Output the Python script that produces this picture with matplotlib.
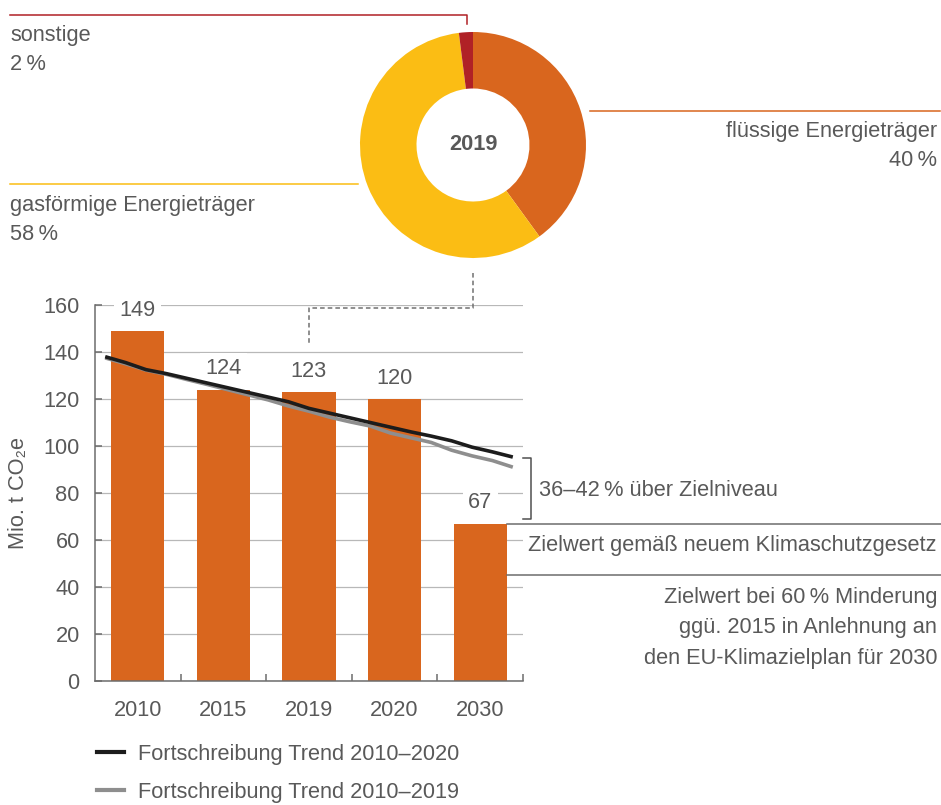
import matplotlib
matplotlib.use("Agg")
import matplotlib.pyplot as plt
from matplotlib.lines import Line2D
from matplotlib.transforms import blended_transform_factory

plt.rcParams['font.family'] = ['Liberation Sans', 'DejaVu Sans']

# Donut 2019: shares by fuel type
shares = [40, 58, 2]
share_names = ['flüssige Energieträger', 'gasförmige Energieträger', 'sonstige']
share_labels = ['40\u2009%', '58\u2009%', '2\u2009%']
share_colors = ['#d9661e', '#fbbd14', '#b02126']

# Bars: emissions in Mio. t CO2e
years = ['2010', '2015', '2019', '2020', '2030']
emissions = [149, 124, 123, 120, 67]

# Trend projections
trend_years = list(range(2010, 2031))
trend_2020 = [138, 135.5, 132.5, 130.8, 128.8, 126.8, 124.8, 122.8, 120.8, 118.8, 116,
              114, 112, 110, 108, 106, 104.2, 102.2, 99.5, 97.5, 95.3]
trend_2019 = [137.5, 135, 132.3, 130.5, 128.3, 126.2, 124, 121.8, 119.6, 117, 114.8,
              112.3, 110.3, 108.5, 105.5, 103.5, 101.5, 98.2, 95.8, 93.8, 91]

target_ksg = 67      # Zielwert Klimaschutzgesetz
target_eu = 45       # Zielwert bei 60 % Minderung
gap_range = [69, 95]  # bracket "36-42 % über Zielniveau"

W, H = 941, 805
GRAY = '#595959'
AXC = '#6c6c6c'
FS = 15.7


def fx(px):
    return px / W


def fy(py):
    return 1 - py / H


fig = plt.figure(figsize=(W / 100, H / 100), dpi=100)

# ---- donut ----
ax_d = fig.add_axes([fx(360), fy(258), 226 / W, 226 / H])
ax_d.pie(shares, colors=share_colors, startangle=90, counterclock=False,
         wedgeprops=dict(width=0.5, linewidth=0))
ax_d.set_xlim(-1, 1)
ax_d.set_ylim(-1, 1)
ax_d.set_aspect('auto')
ax_d.text(0, 0, '2019', ha='center', va='center', fontsize=FS, fontweight='bold', color=GRAY)

# leader lines for the donut
def fline(xs, ys, color, **kw):
    fig.add_artist(Line2D([fx(v) for v in xs], [fy(v) for v in ys], color=color,
                          lw=1.1, transform=fig.transFigure, **kw))

fline([10, 467, 467], [15, 15, 24], share_colors[2])
fline([590, 940], [111, 111], share_colors[0])
fline([10, 358], [184, 184], share_colors[1])

fig.text(fx(10), fy(35), share_names[2], ha='left', va='center', fontsize=FS, color=GRAY)
fig.text(fx(10), fy(65), share_labels[2], ha='left', va='center', fontsize=FS, color=GRAY)
fig.text(fx(10), fy(205), share_names[1], ha='left', va='center', fontsize=FS, color=GRAY)
fig.text(fx(10), fy(235), share_labels[1], ha='left', va='center', fontsize=FS, color=GRAY)
fig.text(fx(937), fy(131), share_names[0], ha='right', va='center', fontsize=FS, color=GRAY)
fig.text(fx(937), fy(160), share_labels[0], ha='right', va='center', fontsize=FS, color=GRAY)

# ---- bar chart ----
ax = fig.add_axes([fx(95), fy(681), 428 / W, 376 / H])
xpos = list(range(len(years)))
bar_w = 0.62
ax.bar(xpos, emissions, width=bar_w, color=share_colors[0], zorder=2)
for i, v in enumerate(emissions):
    ax.annotate(str(v), (i, v), xytext=(0, 15), textcoords='offset points',
                ha='center', va='center', fontsize=FS, color=GRAY, zorder=3,
                bbox=dict(facecolor='white', edgecolor='none', pad=4))

ax.set_xlim(-0.5, 4.5)
ax.set_ylim(0, 160)
ax.set_yticks(range(0, 161, 20))
ax.set_xticks(xpos)
ax.set_xticklabels(years)
ax.set_xticks([0.5, 1.5, 2.5, 3.5, 4.5], minor=True)
ax.grid(axis='y', color='#b8b8b8', lw=0.9, zorder=0)
ax.set_axisbelow(True)
for s in ['top', 'right']:
    ax.spines[s].set_visible(False)
for s in ['left', 'bottom']:
    ax.spines[s].set_color(AXC)
    ax.spines[s].set_linewidth(1.1)
ax.tick_params(axis='y', direction='in', length=5, width=1.1, color=AXC,
               labelsize=FS, labelcolor=GRAY, pad=11)
ax.tick_params(axis='x', which='major', length=0, labelsize=FS, labelcolor=GRAY, pad=14)
ax.tick_params(axis='x', which='minor', direction='in', length=5, width=1.1, color=AXC)
ax.set_ylabel('Mio. t CO\u2082e', fontsize=FS, color=GRAY)
ax.yaxis.set_label_coords(-0.155, 0.5)

# trend lines on a continuous year scale
ax_t = ax.twiny()
ax_t.set_xlim(2009.5, 2030.5)
ax_t.set_axis_off()
l19, = ax_t.plot(trend_years, trend_2019, color='#8e8e8e', lw=2.6, solid_capstyle='butt')
l20, = ax_t.plot(trend_years, trend_2020, color='#1c1c1c', lw=2.6, solid_capstyle='butt')

# target lines and annotations on the right
ax.plot([4 + bar_w / 2, 9.5], [target_ksg, target_ksg], color=AXC, lw=1.1, clip_on=False, zorder=3)
ax.plot([4 + bar_w / 2, 9.5], [target_eu, target_eu], color=AXC, lw=1.1, clip_on=False, zorder=3)
ax.set_xlim(-0.5, 4.5)
br = blended_transform_factory(ax.transAxes, ax.transData)
ax.plot([1.0, 1.019, 1.019, 1.0], [gap_range[1], gap_range[1], gap_range[0], gap_range[0]],
        color='#505050', lw=1.1, transform=br, clip_on=False)

fig.text(fx(539), fy(490), '36\u201342\u2009% über Zielniveau', ha='left', va='center',
         fontsize=FS, color=GRAY)
fig.text(fx(937), fy(545), 'Zielwert gemäß neuem Klimaschutzgesetz', ha='right', va='center',
         fontsize=FS, color=GRAY)
eu_lines = ['Zielwert bei 60\u2009% Minderung', 'ggü. 2015 in Anlehnung an',
            'den EU-Klimazielplan für 2030']
for k, t in enumerate(eu_lines):
    fig.text(fx(937), fy(597 + 30.5 * k), t, ha='right', va='center', fontsize=FS, color=GRAY)

# dashed connector from donut to the 2019 bar
fline([473, 473, 309, 309], [273, 308, 308, 343], '#707070', linestyle=(0, (3, 2)))

# legend
fig.legend(handles=[Line2D([], [], color='#1c1c1c', lw=3), Line2D([], [], color='#8e8e8e', lw=3)],
           labels=['Fortschreibung Trend 2010\u20132020', 'Fortschreibung Trend 2010\u20132019'],
           loc='upper left', bbox_to_anchor=(fx(97), fy(744)), frameon=False,
           fontsize=FS, labelcolor=GRAY, handlelength=1.25, handletextpad=0.65,
           labelspacing=0.76, borderpad=0, borderaxespad=0)

fig.savefig('out.png', dpi=100)
